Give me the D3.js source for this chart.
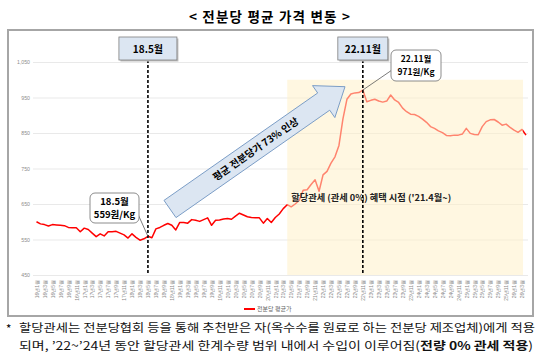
<!DOCTYPE html>
<html><head><meta charset="utf-8">
<script src="https://cdn.jsdelivr.net/npm/d3@7"></script>
<style>body{margin:0;background:#fff}svg{display:block;font-family:"Noto Sans CJK KR","Noto Sans",sans-serif}</style>
</head><body><svg id="c" width="540" height="358"></svg>
<script>
const categories = [
"16.1","16.2","16.3","16.4","16.5","16.6","16.7","16.8","16.9","16.10","16.11","16.12",
"17.1","17.2","17.3","17.4","17.5","17.6","17.7","17.8","17.9","17.10","17.11","17.12",
"18.1","18.2","18.3","18.4","18.5","18.6","18.7","18.8","18.9","18.10","18.11","18.12",
"19.1","19.2","19.3","19.4","19.5","19.6","19.7","19.8","19.9","19.10","19.11","19.12",
"20.1","20.2","20.3","20.4","20.5","20.6","20.7","20.8","20.9","20.10","20.11","20.12",
"21.1","21.2","21.3","21.4","21.5","21.6","21.7","21.8","21.9","21.10","21.11","21.12",
"22.1","22.2","22.3","22.4","22.5","22.6","22.7","22.8","22.9","22.10","22.11","22.12",
"23.1","23.2","23.3","23.4","23.5","23.6","23.7","23.8","23.9","23.10","23.11","23.12",
"24.1","24.2","24.3","24.4","24.5","24.6","24.7","24.8","24.9","24.10","24.11","24.12",
"25.1","25.2","25.3","25.4","25.5","25.6","25.7","25.8","25.9","25.10","25.11","25.12",
"26.1","26.2","26.3","26.4"];
const prices = [
600,594,592,588,592,591,590,589,584,583,583,572,
582,578,568,558,566,560,572,572,573,568,563,554,
566,556,548,552,559,555,580,584,590,595,590,577,
598,598,596,606,604,601,606,611,590,604,605,608,
609,607,616,624,619,614,612,611,611,596,609,598,
612,622,637,648,642,650,660,689,690,705,718,686,
732,742,765,783,815,890,945,960,963,964,971,938,
942,945,940,937,940,957,943,936,920,910,903,902,
897,889,880,868,863,856,851,843,842,844,844,847,
863,849,846,845,868,882,887,888,881,872,875,866,
858,852,860,844];
const yTicks = [450,550,650,750,850,950,1050];
const markerCats = ["18.5","22.11"];
const markerLabels = ["18.5월","22.11월"];
const calloutValues = ["559원/Kg","971원/Kg"];
const shadeRange = ["21.4","26.3"];
const seriesName = "전분당 평균가";

const svg = d3.select("#c");
const x = d3.scalePoint().domain(categories).range([36.5, 526]);
const y = d3.scaleLinear().domain([450,1050]).range([275, 62]);

// title
svg.append("text").attr("x",270).attr("y",22).attr("text-anchor","middle")
  .attr("font-size",13.5).attr("font-weight","bold").attr("letter-spacing",1.2)
  .text("< 전분당 평균 가격 변동 >");
// frame
svg.append("rect").attr("x",8).attr("y",30).attr("width",525).attr("height",286)
  .attr("fill","none").attr("stroke","#a6a6a6").attr("stroke-width",2);

// grid
const yAxis = d3.axisLeft(y).tickValues(yTicks).tickSize(-495).tickFormat(d3.format(","));
const gy = svg.append("g").attr("transform","translate(33,0)").call(yAxis);
gy.select(".domain").remove();
gy.selectAll(".tick line").attr("stroke","#e3e3e3").attr("stroke-width",0.8);
gy.selectAll(".tick text").attr("x",-3).attr("fill","#8c8c8c").attr("font-size",5.2)
  .attr("font-family","Liberation Sans, Arial, sans-serif");

// x labels
const xAxis = d3.axisBottom(x).tickValues(categories.filter((d,i)=>i%2===0)).tickSize(0)
  .tickFormat(d => { const p=d.split("."); return p[0]+"년"+p[1]+"월"; });
const gx = svg.append("g").attr("transform","translate(0,277)").call(xAxis);
gx.select(".domain").remove();
gx.selectAll(".tick text").attr("transform","rotate(-90)").attr("text-anchor","end")
  .attr("x",-3).attr("y",0).attr("dy","0.35em").attr("font-size",5).attr("fill","#8a8a8a");

// line
const line = d3.line().x((d,i)=>x(categories[i])).y(d=>y(d));
svg.append("path").datum(prices).attr("d",line).attr("fill","none")
  .attr("stroke","#ff0000").attr("stroke-width",1.5).attr("stroke-linejoin","round");

// shade overlay
svg.append("rect").attr("x",x(shadeRange[0])).attr("y",y(1000))
  .attr("width",x(shadeRange[1])-x(shadeRange[0])+1).attr("height",y(450)-y(1000))
  .attr("fill","#fff0c8").attr("opacity",0.55);
svg.append("text").attr("x",x(shadeRange[0])+4).attr("y",201).attr("font-size",9)
  .attr("font-weight","bold").attr("fill","#222").attr("textLength",160).attr("lengthAdjust","spacingAndGlyphs")
  .text("할당관세 (관세 0%) 혜택 시점 ('21.4월~)");

// dashed markers
const boxW = [58,50];
markerCats.forEach((c,k)=>{
  const mx = x(c);
  svg.append("line").attr("x1",mx).attr("x2",mx).attr("y1",60).attr("y2",y(450))
    .attr("stroke","#000").attr("stroke-width",1.6).attr("stroke-dasharray","3,2");
  svg.append("rect").attr("x",mx-boxW[k]/2+1.5).attr("y",38.5).attr("width",boxW[k]).attr("height",23)
    .attr("fill","#bfbfbf");
  svg.append("rect").attr("x",mx-boxW[k]/2).attr("y",37).attr("width",boxW[k]).attr("height",23)
    .attr("fill","#dce6f2").attr("stroke","#7f7f7f").attr("stroke-width",0.8);
  svg.append("text").attr("x",mx).attr("y",52.5).attr("text-anchor","middle")
    .attr("font-size",10).attr("font-weight","bold").text(markerLabels[k]);
});

// callouts
const callBoxes = [{x:90,y:193,w:49,h:30,lx:137,ly:212},{x:391,y:50,w:50,h:31,lx:392,ly:70}];
markerCats.forEach((c,k)=>{
  const b = callBoxes[k];
  const v = prices[categories.indexOf(c)];
  svg.append("line").attr("x1",b.lx).attr("y1",b.ly).attr("x2",x(c)).attr("y2",y(v))
    .attr("stroke","#595959").attr("stroke-width",0.8);
  svg.append("rect").attr("x",b.x).attr("y",b.y).attr("width",b.w).attr("height",b.h)
    .attr("rx",5).attr("fill","#fff").attr("stroke","#7f7f7f").attr("stroke-width",0.9);
  svg.append("text").attr("x",b.x+b.w/2).attr("y",b.y+12).attr("text-anchor","middle")
    .attr("font-size",k===0?9.5:8.5).attr("font-weight","bold").text(markerLabels[k]);
  svg.append("text").attr("x",b.x+b.w/2).attr("y",b.y+25).attr("text-anchor","middle")
    .attr("font-size",k===0?9.5:8.5).attr("font-weight","bold").text(calloutValues[k]);
});

// big arrow
const ax0=170, ay0=209, ax1=345, ay1=86.7;
const L = Math.hypot(ax1-ax0, ay1-ay0), ang = Math.atan2(ay1-ay0, ax1-ax0)*180/Math.PI;
const hw=10.5, hh=19.5, hl=26;
const ga = svg.append("g").attr("transform",`translate(${ax0},${ay0}) rotate(${ang})`);
ga.append("path").attr("d",`M0,${-hw}L${L-hl},${-hw}L${L-hl},${-hh}L${L},0L${L-hl},${hh}L${L-hl},${hw}L0,${hw}Z`)
  .attr("fill","#dce6f2").attr("stroke","#7a9cc6").attr("stroke-width",0.9);
ga.append("text").attr("x",L*0.49).attr("y",0).attr("dy","0.36em").attr("text-anchor","middle")
  .attr("font-size",10).attr("font-weight","bold").text("평균 전분당가 73% 인상");

// legend
svg.append("line").attr("x1",244).attr("x2",255).attr("y1",309).attr("y2",309).attr("stroke","#ff0000").attr("stroke-width",2);
svg.append("text").attr("x",257).attr("y",311).attr("font-size",6).attr("fill","#666").text(seriesName);

// footnote
svg.append("text").attr("x",6).attr("y",333).attr("font-size",11.5).text("*");
svg.append("text").attr("x",19).attr("y",331.5).attr("font-size",11.5).attr("fill","#111")
  .attr("textLength",516).attr("lengthAdjust","spacingAndGlyphs")
  .text("할당관세는 전분당협회 등을 통해 추천받은 자(옥수수를 원료로 하는 전분당 제조업체)에게 적용");
const f2 = svg.append("text").attr("x",19).attr("y",349.5).attr("font-size",11.5).attr("fill","#111")
  .attr("textLength",514).attr("lengthAdjust","spacingAndGlyphs");
f2.append("tspan").text("되며, ’22~’24년 동안 할당관세 한계수량 범위 내에서 수입이 이루어짐(");
f2.append("tspan").attr("font-weight","bold").text("전량 0% 관세 적용");
f2.append("tspan").text(")");
</script></body></html>
